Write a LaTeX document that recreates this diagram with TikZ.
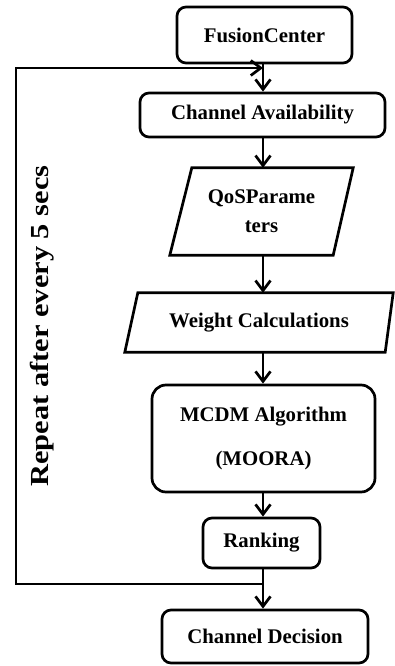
\documentclass[tikz,border=0pt]{standalone}
\usepackage{fontspec}
\setmainfont{Liberation Serif}
\usetikzlibrary{arrows.meta,calc}
\begin{document}
\begin{tikzpicture}[x=1pt,y=-1pt,
  every node/.style={font=\bfseries\fontsize{20.8}{24}\selectfont},
  rbox/.style={draw,rounded corners=9pt,line width=2.7pt,inner sep=0pt},
  pbox/.style={inner sep=0pt,align=center},
  shp/.style={line width=2.7pt,line join=miter},
  arr/.style={line width=2.7pt,-{Straight Barb[length=10pt,width=15pt]}},
  loopline/.style={line width=2.7pt,line join=miter,-{Straight Barb[length=10pt,width=15pt]}}]
\useasboundingbox (0,0) rectangle (394,666);
\coordinate (axis) at (263,0);
\node[rbox,minimum width=175pt,minimum height=56pt] (fc) at (264.5,35) {FusionCenter};
\node[rbox,minimum width=245pt,minimum height=44pt] (ca) at (262.5,115) {Channel Availability};
\node[pbox,minimum width=183pt,minimum height=87pt] (qos) at (261.5,211.5) {QoSParame\\[5pt]ters};
\draw[shp] (qos.south west) -- ($(qos.north west)+(22,0)$) -- (qos.north east) -- ($(qos.south east)+(-20,0)$) -- cycle;
\node[pbox,minimum width=268pt,minimum height=59pt] (wc) at (259,322.5) {Weight Calculations};
\draw[shp] (wc.south west) -- ($(wc.north west)+(13,0)$) -- (wc.north east) -- ($(wc.south east)+(-8,0)$) -- cycle;
\node[rbox,rounded corners=14pt,align=center,minimum width=223pt,minimum height=107pt] (mc) at (263.5,438.5) {MCDM Algorithm\\[20pt](MOORA)};
\node[rbox,minimum width=117pt,minimum height=50pt] (rk) at (261.5,543) {Ranking};
\node[rbox,minimum width=206pt,minimum height=53pt] (cd) at (265,636.5) {Channel Decision};
\node[rotate=90,anchor=base,font=\bfseries\fontsize{26}{30}\selectfont] (rep) at (48,326) {\scalebox{1.17}[1]{Repeat after every 5 secs}};
\draw[arr] (fc.south -| axis) -- (ca.north -| axis);
\draw[arr] (ca.south -| axis) -- (qos.north -| axis);
\draw[arr] (qos.south -| axis) -- (wc.north -| axis);
\draw[arr] (wc.south -| axis) -- (mc.north -| axis);
\draw[arr] (mc.south -| axis) -- (rk.north -| axis);
\draw[arr] (rk.south -| axis) -- (cd.north -| axis);
\coordinate (jb) at (263,584);
\coordinate (lb) at (16,584);
\coordinate (lt) at (16,68);
\coordinate (jt) at (263,68);
\draw[loopline] (jb) -- (lb) -- (lt) -- (jt);
\end{tikzpicture}
\end{document}
